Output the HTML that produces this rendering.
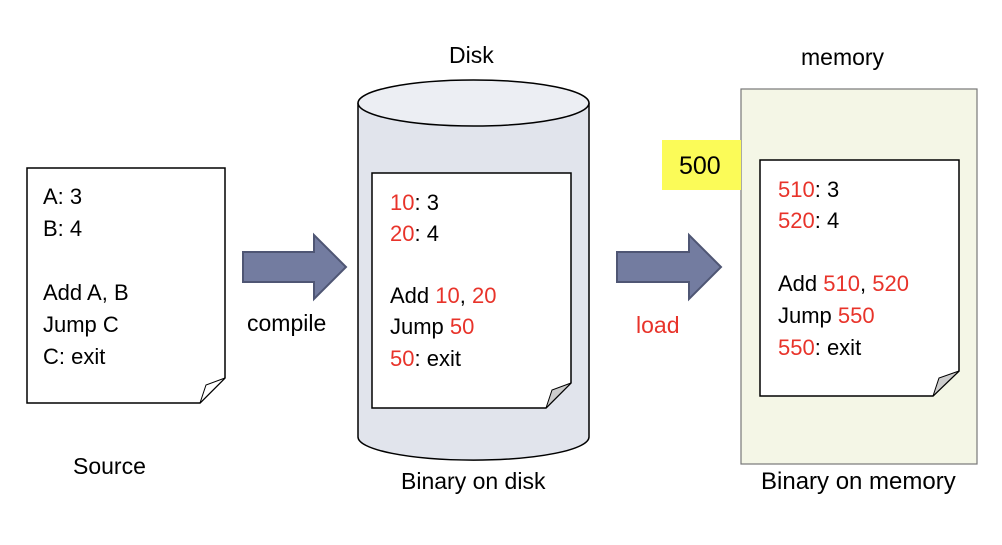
<!DOCTYPE html>
<html><head><meta charset="utf-8"><style>
body{margin:0;background:#fff;}
svg text{font-family:"Liberation Sans",sans-serif;font-size:22px;fill:#000;}
.r{fill:#e8332a;}
.l{font-size:23px;}
</style></head><body>
<svg width="1002" height="540" viewBox="0 0 1002 540" xmlns="http://www.w3.org/2000/svg">
<path d="M27,168 H225 V378 L200,403 H27 Z" fill="#fff" stroke="#000" stroke-width="1.5"/>
<path d="M200,403 L206,385 L225,378 Z" fill="#fff" stroke="#000" stroke-width="1"/>
<text x="43" y="204">A: 3</text>
<text x="43" y="236">B: 4</text>
<text x="43" y="300">Add A, B</text>
<text x="43" y="332">Jump C</text>
<text x="43" y="364">C: exit</text>
<text x="73" y="474" class="l">Source</text>
<path d="M243,252 H314 V235 L346,267 L314,299 V282 H243 Z" fill="#737ca0" stroke="#4f5674" stroke-width="2"/>
<text x="247" y="331" class="l">compile</text>
<path d="M358,103 V437 A115,23 0 0 0 589,437 V103" fill="#e1e4ec" stroke="#000" stroke-width="1.5"/>
<ellipse cx="473.5" cy="103" rx="115.5" ry="23" fill="#eceef3" stroke="#000" stroke-width="1.5"/>
<text x="449" y="63" class="l">Disk</text>
<path d="M372,173 H571 V383 L546,408 H372 Z" fill="#fff" stroke="#000" stroke-width="1.5"/>
<path d="M546,408 L552,390 L571,383 Z" fill="#ccc" stroke="#000" stroke-width="1"/>
<text x="390" y="210"><tspan class="r">10</tspan>: 3</text>
<text x="390" y="241"><tspan class="r">20</tspan>: 4</text>
<text x="390" y="303">Add <tspan class="r">10</tspan>, <tspan class="r">20</tspan></text>
<text x="390" y="334">Jump <tspan class="r">50</tspan></text>
<text x="390" y="366"><tspan class="r">50</tspan>: exit</text>
<text x="401" y="489" class="l">Binary on disk</text>
<path d="M617,252 H689 V235 L721,267 L689,299 V282 H617 Z" fill="#737ca0" stroke="#4f5674" stroke-width="2"/>
<text x="636" y="333" class="r l">load</text>
<rect x="741" y="89" width="236" height="375" fill="#f4f6e6" stroke="#777" stroke-width="1.2"/>
<text x="801" y="65" class="l">memory</text>
<rect x="662" y="140" width="79" height="50" fill="#fbfb58"/>
<text x="679" y="174" style="font-size:25px">500</text>
<path d="M760,160 H959 V371 L933,396 H760 Z" fill="#fff" stroke="#000" stroke-width="1.5"/>
<path d="M933,396 L939,378 L959,371 Z" fill="#ccc" stroke="#000" stroke-width="1"/>
<text x="778" y="197"><tspan class="r">510</tspan>: 3</text>
<text x="778" y="228"><tspan class="r">520</tspan>: 4</text>
<text x="778" y="291">Add <tspan class="r">510</tspan>, <tspan class="r">520</tspan></text>
<text x="778" y="323">Jump <tspan class="r">550</tspan></text>
<text x="778" y="355"><tspan class="r">550</tspan>: exit</text>
<text x="761" y="489" style="font-size:24px">Binary on memory</text>
</svg>
</body></html>
